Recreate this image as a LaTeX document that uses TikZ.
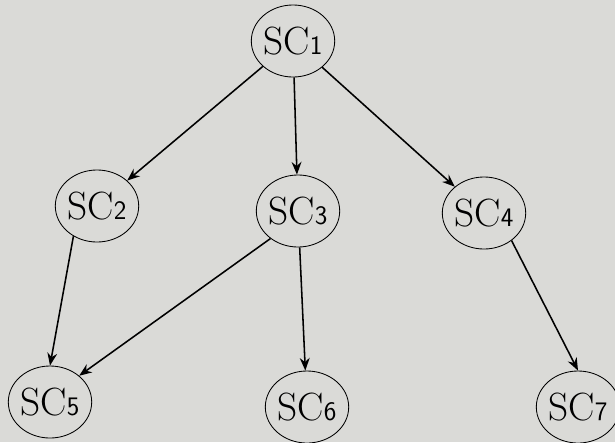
\documentclass[tikz,border=0pt]{standalone}
\usetikzlibrary{shapes.geometric,arrows.meta}
\definecolor{paper}{RGB}{218,218,215}
\tikzset{
  sc/.style={ellipse, draw=black, line width=0.6pt, minimum width=2cm, minimum height=1.8cm, inner sep=0pt, font=\fontsize{28}{32}\selectfont},
  link/.style={line width=1.1pt, -{Stealth[length=9pt,width=7pt]}}
}
\newcommand{\scname}[1]{SC{\sffamily\fontsize{19}{22}\selectfont #1}}
\begin{document}
\begin{tikzpicture}[x=0.025cm, y=-0.025cm]

\fill[paper] (0,0) rectangle (615,442);
\useasboundingbox (0,0) rectangle (615,442);

\node[sc] (sc1) at (293,41) {\scname{1}};
\node[sc] (sc2) at (97,206) {\scname{2}};
\node[sc] (sc3) at (298,211) {\scname{3}};
\node[sc] (sc4) at (484,213) {\scname{4}};
\node[sc] (sc5) at (50,402) {\scname{5}};
\node[sc] (sc6) at (307,407) {\scname{6}};
\node[sc] (sc7) at (578,407) {\scname{7}};

\draw[link] (sc1) -- (sc2);
\draw[link] (sc1) -- (sc3);
\draw[link] (sc1) -- (sc4);
\draw[link] (sc2.232) -- (sc5.north);
\draw[link] (sc3.225) -- (sc5.42);
\draw[link] (sc3) -- (sc6);
\draw[link] (sc4.-45) -- (sc7.north);

\end{tikzpicture}
\end{document}
